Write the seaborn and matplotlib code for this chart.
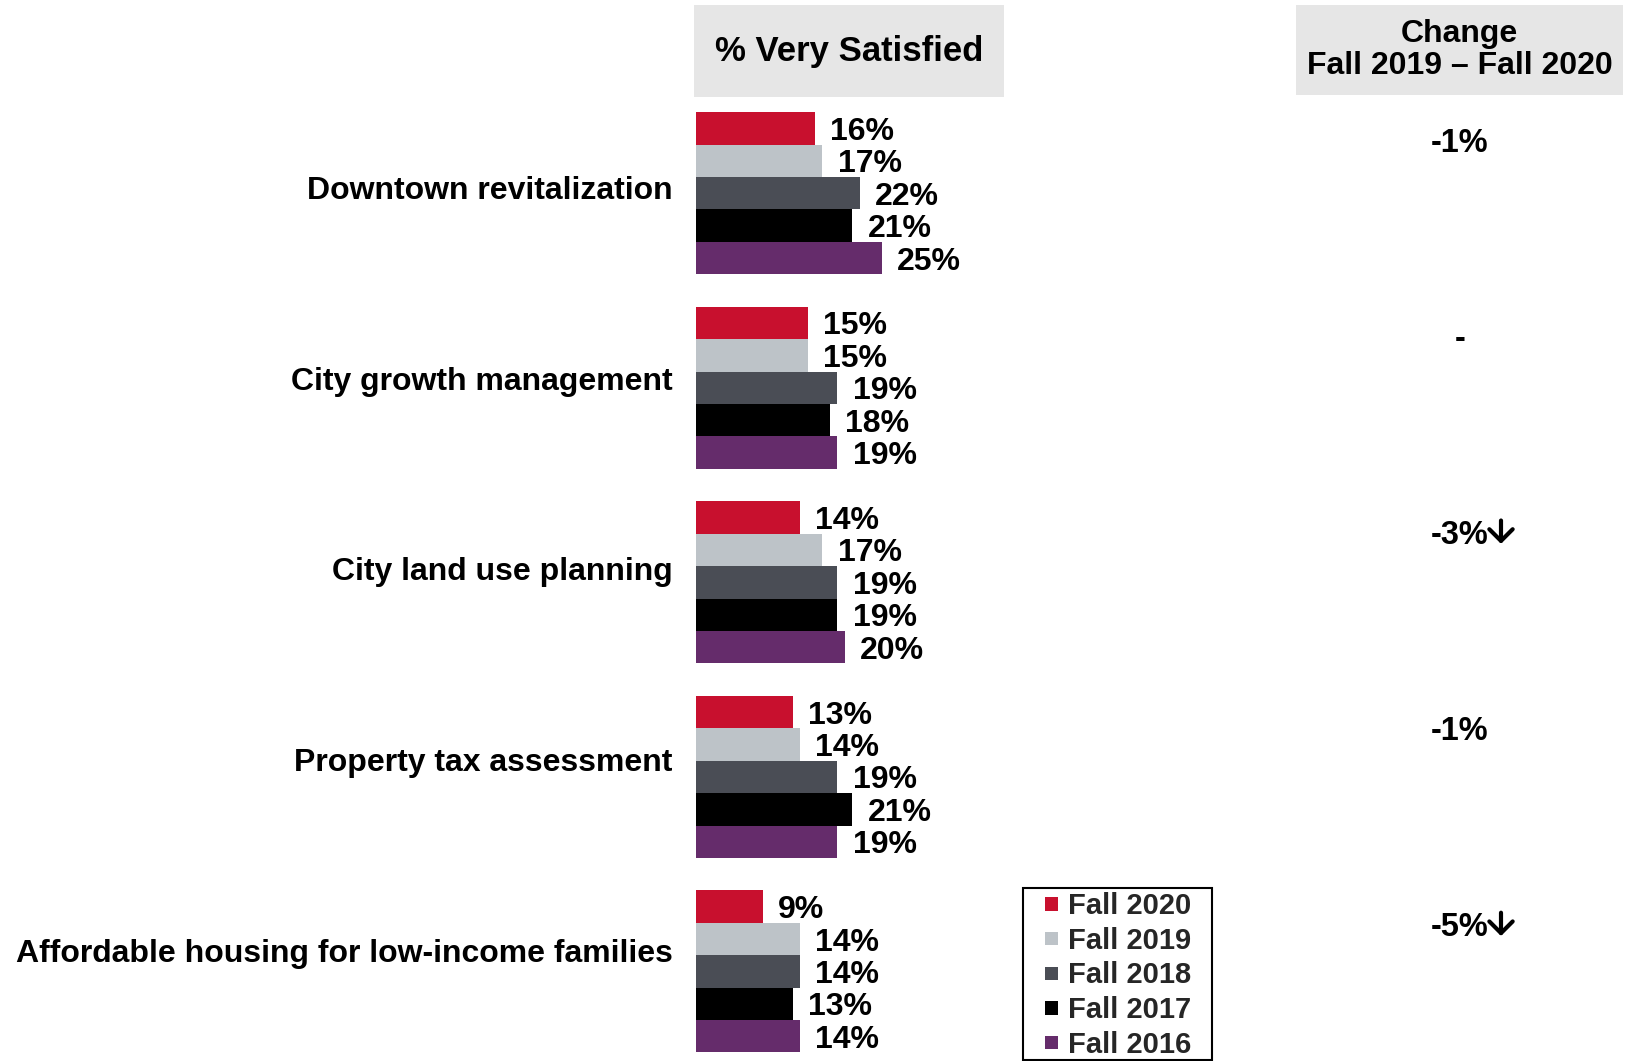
import matplotlib
matplotlib.use("Agg")
import matplotlib.pyplot as plt
import matplotlib.transforms as mtransforms
from matplotlib.patches import Patch, Rectangle
from matplotlib.legend_handler import HandlerPatch
import seaborn as sns
import pandas as pd

# Survey results: share of residents "very satisfied", by wave
categories = [
    "Downtown revitalization",
    "City growth management",
    "City land use planning",
    "Property tax assessment",
    "Affordable housing for low-income families",
]
waves = ["Fall 2020", "Fall 2019", "Fall 2018", "Fall 2017", "Fall 2016"]
fall_2020 = [16, 15, 14, 13, 9]
fall_2019 = [17, 15, 17, 14, 14]
fall_2018 = [22, 19, 19, 19, 14]
fall_2017 = [21, 18, 19, 21, 13]
fall_2016 = [25, 19, 20, 19, 14]
# Statistically significant change between Fall 2019 and Fall 2020
significant = [False, False, True, False, True]

colors = ["#C8102E", "#BDC3C8", "#4A4D55", "#000000", "#652C6B"]

series = [fall_2020, fall_2019, fall_2018, fall_2017, fall_2016]
rows = []
for wave, vals in zip(waves, series):
    for cat, v in zip(categories, vals):
        rows.append({"category": cat, "wave": wave, "value": v})
df = pd.DataFrame(rows)

sns.set_theme(style="white")
plt.rcParams["font.family"] = ["Liberation Sans", "DejaVu Sans"]
plt.rcParams["font.weight"] = "bold"

W, H = 1634, 1061
fig = plt.figure(figsize=(W / 100, H / 100), dpi=100)

# axes placement in pixel terms
ax_left, ax_top, ax_bottom = 696, 96, 1059
ax = fig.add_axes([ax_left / W, 1 - ax_bottom / H, 297.6 / W, (ax_bottom - ax_top) / H])

sns.barplot(
    data=df, y="category", x="value", hue="wave",
    order=categories, hue_order=waves, palette=colors, saturation=1,
    orient="h", width=0.833, linewidth=0, legend=False, ax=ax,
)

ax.set_xlim(0, 40)
ax.set_ylim(4.45, -0.5)
for sp in ax.spines.values():
    sp.set_visible(False)
ax.set_xticks([])
ax.set_xlabel("")
ax.set_ylabel("")
ax.tick_params(axis="y", length=0, pad=17)
# category names sit slightly above each bar group, drifting upward down the list
ax.set_yticks([i * 0.98 - 0.03 for i in range(len(categories))])
ax.set_yticklabels(categories, fontsize=23, fontweight="bold", color="black")
for t in ax.get_yticklabels():
    t.set_va("center_baseline")

for cont in ax.containers:
    texts = ax.bar_label(cont, fmt="{:.0f}%", padding=11, fontsize=23,
                         fontweight="bold", color="black")
    for t in texts:
        t.set_va("center_baseline")

# Header boxes
def header(x0, x1, y0, y1, text, size, ls=1.0):
    fig.patches.append(Rectangle((x0 / W, 1 - y1 / H), (x1 - x0) / W, (y1 - y0) / H,
                                 transform=fig.transFigure, facecolor="#E6E6E6",
                                 edgecolor="none", zorder=0))
    fig.text((x0 + x1) / 2 / W, 1 - (y0 + y1) / 2 / H, text, ha="center", va="center",
             fontsize=size, fontweight="bold", color="black", linespacing=ls)

header(694, 1004, 5, 97, "% Very Satisfied", 25)
header(1296, 1623, 5, 95, "Change\nFall 2019 \u2013 Fall 2020", 23, 1.08)

# Change column, with a down arrow on significant declines
trans = mtransforms.blended_transform_factory(fig.transFigure, ax.transData)
for i, (a, b, sig) in enumerate(zip(fall_2020, fall_2019, significant)):
    d = a - b
    label = "-" if d == 0 else f"{d:d}%"
    y = i * 1.008 - 0.276
    fig.text(1460 / W, y, label, transform=trans, ha="center", va="center_baseline",
             fontsize=23.5, fontweight="bold", color="black")
    if sig:
        ax.annotate("", xy=(1501 / W, y + 0.062), xycoords=trans,
                    xytext=(1501 / W, y - 0.058), textcoords=trans,
                    annotation_clip=False,
                    arrowprops=dict(arrowstyle="->,head_length=0.42,head_width=0.42",
                                    mutation_scale=20, lw=3.0, color="black",
                                    shrinkA=0, shrinkB=0))

# Legend: framed box with small square swatches
fig.patches.append(Rectangle((1023 / W, 1 - 1060 / H), (1212 - 1023) / W, (1060 - 888) / H,
                             transform=fig.transFigure, facecolor="white",
                             edgecolor="black", linewidth=1.5, zorder=1))


def square_patch(legend, orig_handle, xdescent, ydescent, width, height, fontsize):
    s = 0.46 * fontsize
    return Rectangle((-xdescent + width - s, -ydescent + (height - s) / 2), s, s)


handles = [Patch(facecolor=c, edgecolor="none", label=w) for c, w in zip(colors, waves)]
leg = fig.legend(handles=handles, loc="upper left",
                 bbox_to_anchor=(1029 / W, 1 - 892 / H), bbox_transform=fig.transFigure,
                 frameon=False, fontsize=21, handlelength=1.0,
                 handleheight=0.7, handletextpad=0.32, labelspacing=0.23,
                 borderpad=0, borderaxespad=0,
                 handler_map={Patch: HandlerPatch(patch_func=square_patch)})
leg.set_zorder(2)
for t in leg.get_texts():
    t.set_fontweight("bold")

fig.savefig("out.png", dpi=100)
